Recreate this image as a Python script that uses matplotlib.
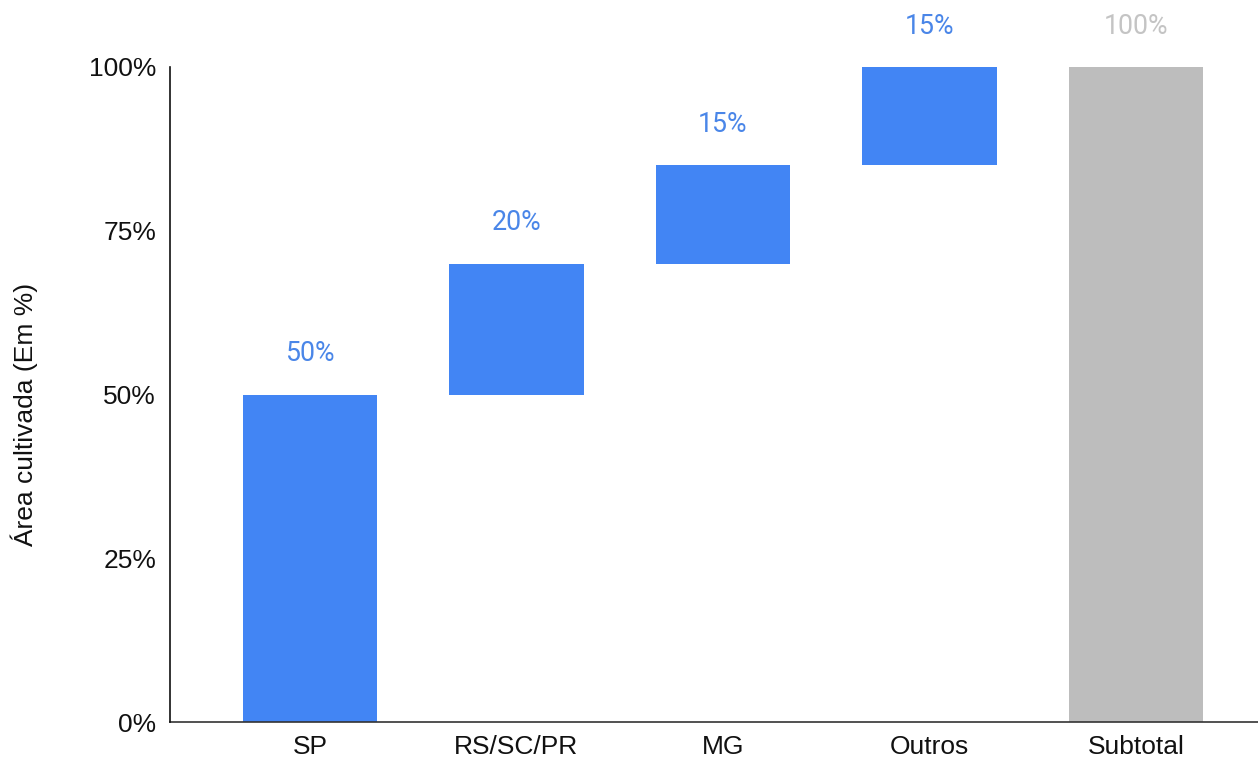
import matplotlib
matplotlib.use("Agg")
import matplotlib.pyplot as plt
import numpy as np

categories = ["SP", "RS/SC/PR", "MG", "Outros", "Subtotal"]
steps = [50, 20, 15, 15]          # % of cultivated area per region
subtotal = 100
yticks = [0, 25, 50, 75, 100]

BLUE = "#4285F4"
GRAY = "#BDBDBD"

bottoms = list(np.concatenate([[0], np.cumsum(steps)[:-1]])) + [0]
heights = steps + [subtotal]
colors = [BLUE] * len(steps) + [GRAY]
label_colors = ["#4A86E8"] * len(steps) + ["#C4C4C4"]

fig = plt.figure(figsize=(12.58, 7.59), dpi=100)
ax = fig.add_axes([170 / 1258, 37 / 759, 1 - 170 / 1258, 655 / 759])

x = np.arange(len(categories))
ax.bar(x, heights, bottom=bottoms, width=0.65, color=colors, zorder=2)

for xi, b, h, c in zip(x, bottoms, heights, label_colors):
    ax.annotate(f"{h}%", (xi, b + h), xytext=(0, 29.5), textcoords="offset points",
                ha="center", va="center", fontsize=19.3, color=c,
                family="Roboto", annotation_clip=False)

ax.set_xlim(-0.678, 4.591)
ax.set_ylim(0, 100)
ax.set_xticks(x)
ax.set_xticklabels(categories, family="Liberation Sans", fontsize=19)
ax.set_yticks(yticks)
ax.set_yticklabels([f"{v}%" for v in yticks], family="Liberation Sans", fontsize=19)
ax.tick_params(axis="both", length=0, colors="#111111")
ax.tick_params(axis="y", pad=10)
ax.tick_params(axis="x", pad=9)

for s in ("top", "right"):
    ax.spines[s].set_visible(False)
ax.spines["left"].set_color("#111111")
ax.spines["bottom"].set_color("#333333")
ax.spines["left"].set_linewidth(1.2)
ax.spines["bottom"].set_linewidth(1.2)
ax.spines["left"].set_zorder(3)

ax.set_ylabel("Área cultivada (Em %)", family="Liberation Sans", fontsize=19,
              color="#111111")
ax.yaxis.set_label_coords(-132 / 1088, 0.47)

fig.savefig("out.png", dpi=100)
